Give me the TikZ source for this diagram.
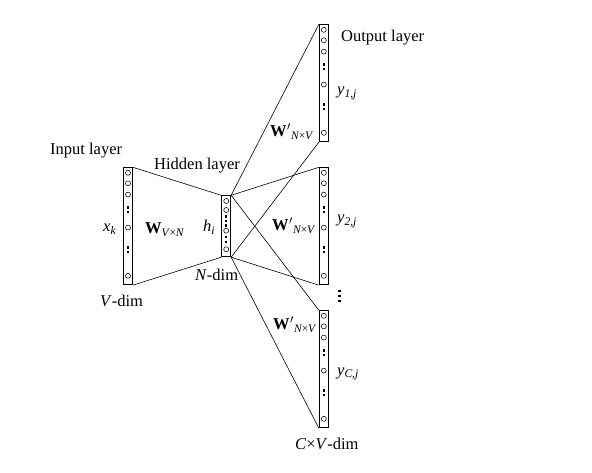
\documentclass[tikz,border=0pt]{standalone}
\usepackage{fontspec}
\setmainfont{Liberation Serif}
\usetikzlibrary{calc}
\tikzset{
  layerbox/.style={draw, line width=0.9pt, rectangle, minimum width=9pt, inner sep=0pt},
  unit/.style={draw, circle, line width=0.55pt, minimum size=5pt, inner sep=0pt},
  dotsq/.style={fill, rectangle, minimum size=2.5pt, inner sep=0pt},
  conn/.style={line width=0.6pt},
  lbl/.style={inner sep=0pt, anchor=base west, font=\fontsize{16.5}{19}\selectfont},
}
\newcommand\biglayer[3]{%
  \node[layerbox, minimum height=117pt, anchor=north] (#1) at (#2,#3) {};
  \foreach \o [count=\i] in {5.5,16,27.3,60.3,108.5}
    \node[unit] (#1-c\i) at ($(#1.north)+(0,\o)$) {};
  \foreach \o [count=\i] in {40,44.5,80,84.5}
    \node[dotsq] (#1-d\i) at ($(#1.north)+(0,\o)$) {};
}
\newcommand\Wp{\textbf{W}\kern0.5pt$'$\textsubscript{\textit{N}\kern-0.3pt×\kern-0.3pt\textit{V}}}
\begin{document}
\begin{tikzpicture}[x=1pt,y=-1pt]
  \useasboundingbox (0,0) rectangle (592,473);
  % layers
  \biglayer{in}{128}{167.3}
  \biglayer{outa}{323.8}{24.3}
  \biglayer{outb}{323.8}{167.3}
  \biglayer{outc}{323.8}{310.3}
  \node[layerbox, minimum height=61pt, anchor=north] (hid) at (226.2,195.3) {};
  \foreach \o [count=\i] in {5.7,14.7,35.4,54}
    \node[unit] (hid-c\i) at ($(hid.north)+(0,\o)$) {};
  \foreach \o [count=\i] in {21.2,25.7,30.2,41.7,46.7}
    \node[dotsq] (hid-d\i) at ($(hid.north)+(0,\o)$) {};
  % vertical dots between output layers
  \foreach \y [count=\i] in {291,296,301}
    \node[dotsq, minimum size=2.8pt] (vd\i) at (339.5,\y) {};
  % connectors
  \draw[conn] (in.north east) -- (hid.north west);
  \draw[conn] (in.south east) -- (hid.south west);
  \foreach \o in {outa,outb,outc}{
    \draw[conn] (hid.north east) -- (\o.north west);
    \draw[conn] (hid.south east) -- (\o.south west);
  }
  % labels
  \node[lbl] (lin) at (50,155) {Input layer};
  \node[lbl] (lhid) at (154,170) {Hidden layer};
  \node[lbl] (lout) at (341,42) {Output layer};
  \node[lbl] (lx) at (103,232) {\textit{x}\textsubscript{\textit{k}}};
  \node[lbl] (lw) at (145,233.5) {\textbf{W}\textsubscript{\textit{V}\kern-0.3pt×\kern-0.3pt\textit{N}}};
  \node[lbl] (lh) at (203,232) {\textit{h}\textsubscript{\textit{i}}};
  \node[lbl] (lvdim) at (100,306) {\textit{V}-dim};
  \node[lbl] (lndim) at (195,280) {\textit{N}-dim};
  \node[lbl] (ly1) at (337,95) {\textit{y}\textsubscript{\textit{1,j}}};
  \node[lbl] (ly2) at (337,223) {\textit{y}\textsubscript{\textit{2,j}}};
  \node[lbl] (ly3) at (337,375) {\textit{y}\textsubscript{\textit{C,j}}};
  \node[lbl] (lw1) at (270,137) {\Wp};
  \node[lbl] (lw2) at (272,231) {\Wp};
  \node[lbl] (lw3) at (273,329.5) {\Wp};
  \node[lbl] (lcdim) at (295,449) {\textit{C}×\textit{V}-dim};
\end{tikzpicture}
\end{document}
